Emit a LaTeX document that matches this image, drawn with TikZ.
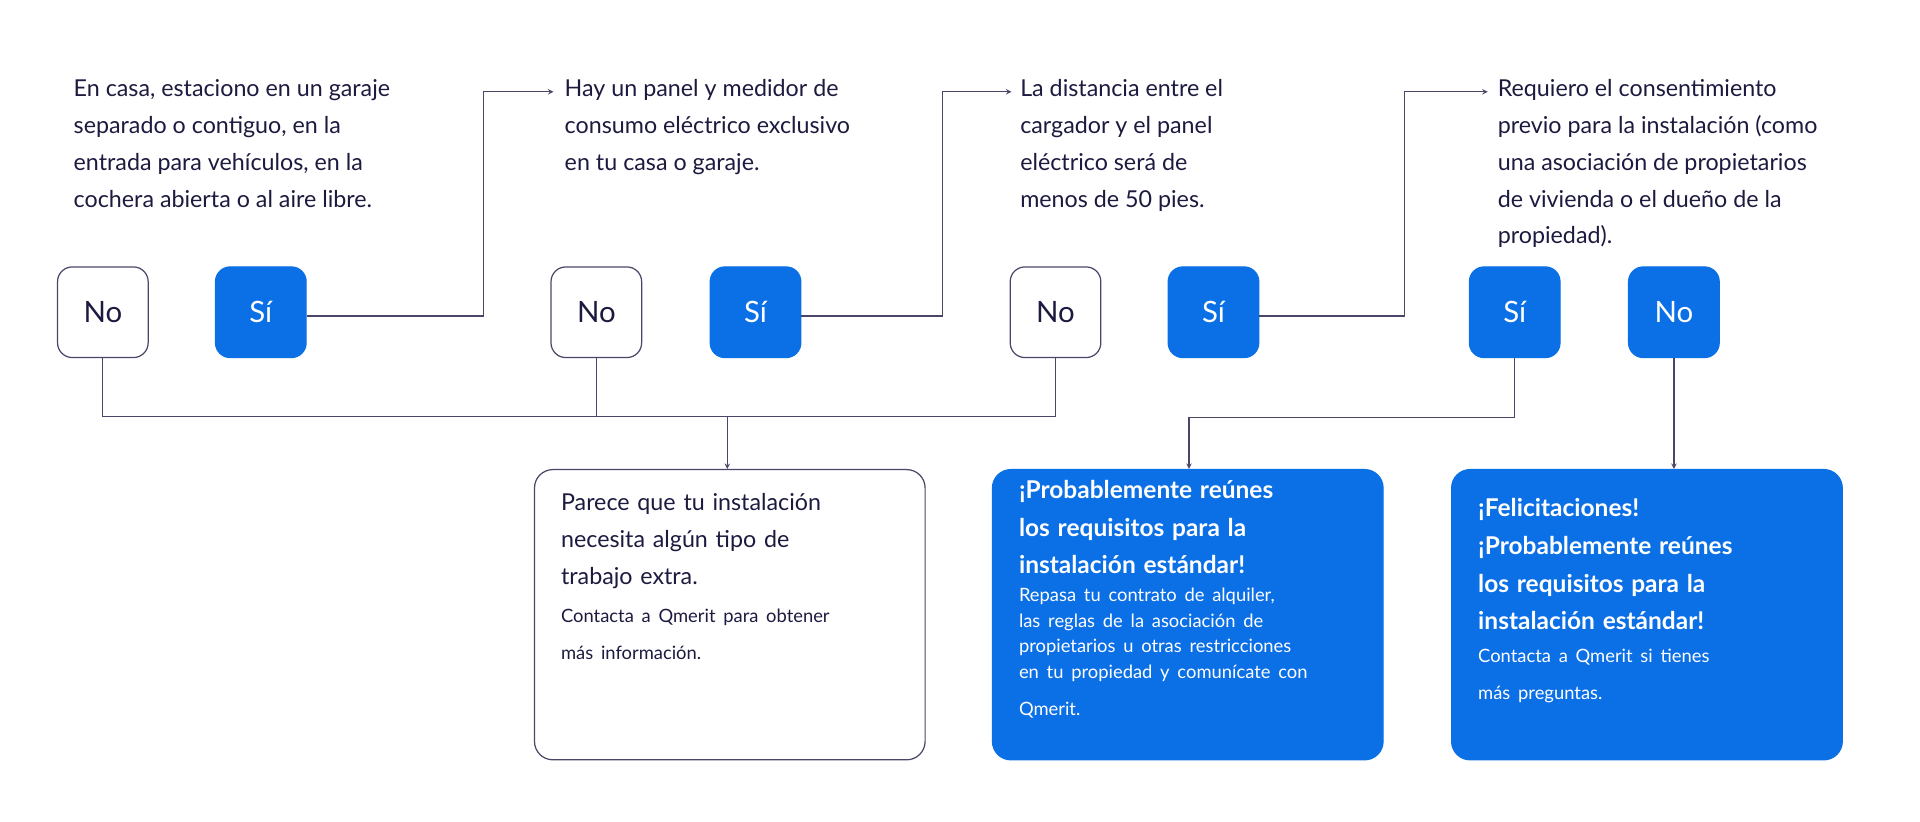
\documentclass[tikz,border=0pt]{standalone}
\usepackage{fontspec}
\setmainfont{Lato}
\usetikzlibrary{positioning}
\definecolor{qblue}{HTML}{0B6FE6}
\definecolor{qnavy}{HTML}{1C1A3F}
\definecolor{qline}{HTML}{4B4668}
\newcommand{\qtext}{\fontsize{19}{30}\selectfont}
\newcommand{\qsmall}{\fontsize{15}{21}\selectfont}
\newcommand{\qbold}{\fontsize{20}{31}\selectfont\bfseries}
\begin{document}
\begin{tikzpicture}[x=1pt,y=-1pt,
  > = stealth,
  question/.style = {anchor=north west,align=left,inner sep=0pt,text=qnavy,font=\qtext},
  btn/.style = {draw=qline,line width=1pt,rounded corners=12pt,minimum size=74pt,inner sep=0pt,text=qnavy,font=\fontsize{24}{28}\selectfont},
  yes/.style = {btn,draw=qblue,fill=qblue,text=white},
  result/.style = {draw=qline,line width=1pt,rounded corners=15pt,minimum width=319pt,minimum height=237pt,anchor=north west},
  good/.style = {result,draw=qblue,fill=qblue},
  link/.style = {draw=qline,line width=1pt}
  ]
  \useasboundingbox (0,0) rectangle (1568,671);

  % questions
  \node[question] (q1) at (60,65) {En casa, estaciono en un garaje\\separado o contiguo, en la\\entrada para vehículos, en la\\cochera abierta o al aire libre.};
  \node[question] (q2) at (461,65) {Hay un panel y medidor de\\consumo eléctrico exclusivo\\en tu casa o garaje.};
  \node[question] (q3) at (833,65) {La distancia entre el\\cargador y el panel\\eléctrico será de\\menos de 50 pies.};
  \node[question] (q4) at (1223,65) {Requiero el consentimiento\\previo para la instalación (como\\una asociación de propietarios\\de vivienda o el dueño de la\\propiedad).};

  % answers
  \node[btn] (no1) at (84,255) {No};
  \node[yes] (si1) at (213,255) {Sí};
  \node[btn] (no2) at (487,255) {No};
  \node[yes] (si2) at (617,255) {Sí};
  \node[btn] (no3) at (862,255) {No};
  \node[yes] (si3) at (991,255) {Sí};
  \node[yes] (si4) at (1237,255) {Sí};
  \node[yes] (no4) at (1367,255) {No};

  % results
  \node[result] (r1) at (436,383) {};
  \node[good] (r2) at (810,383) {};
  \node[good] (r3) at (1185,383) {};
  \node[question,text width=290pt] at (458,403) {Parece que tu instalación\\necesita algún tipo de\\trabajo extra.\\[10pt]{\qsmall Contacta a Qmerit para obtener\\más información.}};
  \node[question,text=white,text width=300pt] at (832,392) {{\qbold ¡Probablemente reúnes\\los requisitos para la\\instalación estándar!}\\[2pt]{\qsmall Repasa tu contrato de alquiler,\\las reglas de la asociación de\\propietarios u otras restricciones\\en tu propiedad y comunícate con\\Qmerit.}};
  \node[question,text=white,text width=300pt] at (1207,407) {{\qbold ¡Felicitaciones!\\¡Probablemente reúnes\\los requisitos para la\\instalación estándar!}\\[6pt]{\qsmall Contacta a Qmerit si tienes\\más preguntas.}};

  % connectors
  \coordinate (j1) at (395,258);
  \coordinate (j2) at (770,258);
  \coordinate (j3) at (1147,258);
  \draw[link,->] (si1.east |- j1) -- (j1) |- (452,75);
  \draw[link,->] (si2.east |- j2) -- (j2) |- (826,75);
  \draw[link,->] (si3.east |- j3) -- (j3) |- (1215,75);

  \coordinate (m) at (594,340);
  \draw[link] (no1.south) |- (no3.south |- m) -- (no3.south);
  \draw[link] (no2.south) -- (no2.south |- m);
  \draw[link,->] (m) -- (m |- r1.north);
  \coordinate (m2) at (971,341);
  \draw[link,->] (si4.south) |- (m2) -- (m2 |- r2.north);
  \draw[link,->] (no4.south) -- (no4.south |- r3.north);
\end{tikzpicture}
\end{document}
